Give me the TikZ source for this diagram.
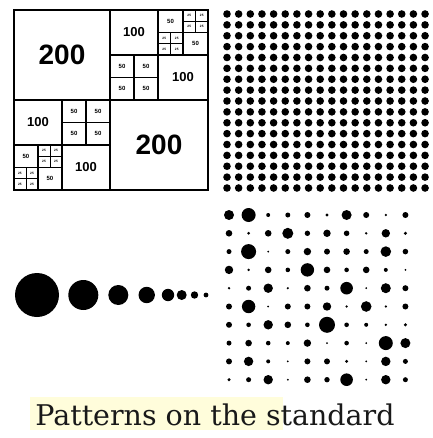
\documentclass[tikz,border=0pt]{standalone}
\usepackage{fontspec}
\setmainfont{Liberation Sans}
\newfontfamily\captionserif{DejaVu Serif}
\begin{document}
\begin{tikzpicture}[x=1pt,y=1pt,yscale=-1,xscale=1,
  frame/.style={line width=1.4pt},
  subframe/.style={line width=1.1pt},
  tinyframe/.style={line width=0.6pt},
  big label/.style={font=\fontsize{28}{28}\selectfont\bfseries,inner sep=0.75pt},
  mid label/.style={font=\fontsize{13}{13}\selectfont\bfseries,inner sep=0.75pt},
  small label/.style={font=\fontsize{6}{6}\selectfont\bfseries,inner sep=0.5pt},
  tiny label/.style={font=\fontsize{3.2}{3.2}\selectfont\bfseries,inner sep=0.2pt}]
\useasboundingbox (0,0) rectangle (432,438);

%Shape: Rectangle [outer square]
\draw [frame] (14,10) rectangle (208,190);
%Straight Lines [quadrants]
\draw [frame] (110,10) -- (110,190);
\draw [frame] (14,100) -- (208,100);
%Straight Lines [top right quadrant]
\draw [subframe] (158,10) -- (158,100);
\draw [subframe] (110,55) -- (208,55);
\draw [subframe] (183,10) -- (183,55);
\draw [subframe] (158,32.5) -- (208,32.5);
\draw [subframe] (134,55) -- (134,100);
\draw [subframe] (110,77.5) -- (158,77.5);
%Straight Lines [bottom left quadrant]
\draw [subframe] (62,100) -- (62,190);
\draw [subframe] (14,145) -- (110,145);
\draw [subframe] (38,145) -- (38,190);
\draw [subframe] (14,167.5) -- (62,167.5);
\draw [subframe] (86,100) -- (86,145);
\draw [subframe] (62,122.5) -- (110,122.5);

% Text Node
\node [big label] (twoA) at (62,55) {200};
\node [big label] (twoB) at (159,145) {200};
\node [mid label] (oneA) at (134,32.5) {100};
\node [mid label] (oneB) at (183,77.5) {100};
\node [mid label] (oneC) at (38,122.5) {100};
\node [mid label] (oneD) at (86,167.5) {100};
% Text Node [50 cells]
\foreach \cx/\cy [count=\k] in {170.5/21.25,195.5/43.75,122/66.25,146/66.25,122/88.75,146/88.75,
    26/156.25,50/178.75,74/111.25,98/111.25,74/133.75,98/133.75}
  \node [small label] (fifty\k) at (\cx,\cy) {50};

% tiny 25 cells
\foreach \qx/\qy/\qw [count=\q] in {183/10/25,158/32.5/25,38/145/24,14/167.5/24}{
  \draw [tinyframe] ({\qx+\qw/2},\qy) -- ++(0,22.5);
  \draw [tinyframe] (\qx,\qy+11.25) -- ++(\qw,0);
  \foreach \i in {0,1}
    \foreach \j in {0,1}
      \node [tiny label] (tw\q\i\j) at ({\qx+(\i+0.5)*\qw/2},{\qy+(\j+0.5)*11.25}) {25};
}

%Shape: Circle [regular dot screen]
\foreach \i in {0,...,17}
  \foreach \j in {0,...,16}
    \fill ({227+\i*11.65},{14+\j*10.875}) circle (3.8pt);

%Shape: Circle [dot sizes]
\foreach \cx/\rad in {37/22,83.3/15,118.3/10,146.7/8.2,168/6.2,181.7/5,194.5/3.7,206/2.4}
  \fill (\cx,295) circle (\rad pt);

%Shape: Circle [random dot screen]
\foreach \row [count=\j from 0] in {
    {5,7,2,2.5,3,1.7,5,3,1.3,3},
    {3.3,1.5,3.3,5.5,2.7,3.7,2.8,1.3,4.2,1.7},
    {2.5,7.5,1,2.5,3.7,3,3.3,2.5,5.3,2.8},
    {4.2,1.3,3.3,2.3,6.7,3.3,2.3,3.3,2,1},
    {1.3,2.5,4.7,1.2,3.3,2.5,6.3,1,5,3},
    {3,6.7,1,3,3,4.2,1.3,5.3,1.3,3},
    {3,2.3,4.7,3.3,2.3,8,2.3,2,1.3,1.7},
    {2.5,3.3,2.3,2,3.7,1,2.3,1,7,5},
    {3,4.7,2,1,3,3,1.7,1,4.7,2.5},
    {1.7,2.5,4.7,1,3.3,2.7,6.3,1,4.7,2.5}}
  \foreach \rad [count=\i from 0] in \row
    \fill ({229+\i*19.6},{215+\j*18.3}) circle (\rad pt);

%Shape: Rectangle [highlight]
\fill [yellow!14] (30,397) rectangle (283,430);
% Text Node
\node [anchor=base, inner sep=0pt, text=black!90,
  font=\captionserif\fontsize{28.5}{30}\selectfont] (caption) at (215,425) {Patterns on the standard};

\end{tikzpicture}
\end{document}
